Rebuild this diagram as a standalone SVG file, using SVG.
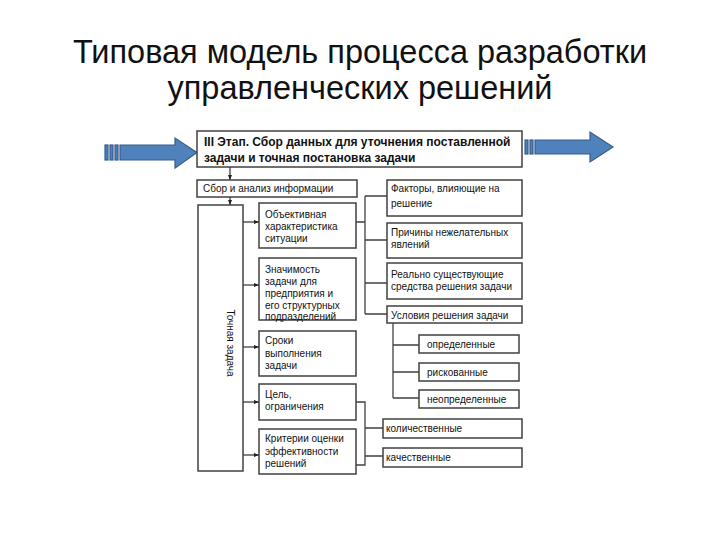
<svg xmlns="http://www.w3.org/2000/svg" width="720" height="540" viewBox="0 0 720 540">
<defs>
<style>
.t{font-family:"Liberation Sans",Arial,sans-serif;fill:#111}
.ttl{font-size:32.5px;text-anchor:middle}
.s{font-size:10px}
.b{font-size:12px;font-weight:bold}
.box{fill:#fff;stroke:#404040;stroke-width:1.5}
.ln{fill:none;stroke:#404040;stroke-width:1.3}
.arr{fill:#4F81BD;stroke:#385D8A;stroke-width:1.2}
</style>
<marker id="ah" viewBox="0 0 10 10" refX="10" refY="5" markerWidth="5" markerHeight="5" orient="auto" markerUnits="userSpaceOnUse">
<path d="M0,1 L10,5 L0,9 z" fill="#222"/>
</marker>
</defs>
<rect width="720" height="540" fill="#fff"/>
<g id="title">
<text class="t ttl" x="360" y="63">Типовая модель процесса разработки</text>
<text class="t ttl" x="360" y="99">управленческих решений</text>
</g>
<g id="arrow-left">
<rect class="arr" x="105" y="145" width="3" height="15"/>
<rect class="arr" x="110" y="145" width="3" height="15"/>
<rect class="arr" x="115" y="145" width="3" height="15"/>
<path class="arr" d="M120,145 L175,145 L175,138 L197,152.5 L175,168 L175,160 L120,160 Z"/>
</g>
<g id="arrow-right">
<rect class="arr" x="525" y="140" width="3" height="14"/>
<rect class="arr" x="530" y="140" width="3" height="14"/>
<path class="arr" d="M535,140 L590,140 L590,132 L613,147 L590,162 L590,154 L535,154 Z"/>
</g>
<g id="stage">
<rect class="box" x="197" y="131" width="325" height="36"/>
<text class="t b" x="204" y="146">III Этап. Сбор данных для уточнения поставленной</text>
<text class="t b" x="204" y="162">задачи и точная постановка задачи</text>
</g>
<g id="sbor">
<rect class="box" x="197" y="180" width="160" height="17"/>
<text class="t s" x="203" y="192">Сбор и анализ информации</text>
</g>
<g id="tochnaya">
<rect class="box" x="198" y="205" width="45" height="266"/>
<text class="t s" transform="translate(227,343) rotate(90)" text-anchor="middle">Точная задача</text>
</g>
<g id="obj">
<rect class="box" x="259" y="203" width="97" height="45"/>
<text class="t s" x="265" y="218">Объективная</text>
<text class="t s" x="265" y="230">характеристика</text>
<text class="t s" x="265" y="242">ситуации</text>
</g>
<g id="znach">
<rect class="box" x="259" y="258" width="97" height="62"/>
<text class="t s" x="265" y="273">Значимость</text>
<text class="t s" x="265" y="285">задачи для</text>
<text class="t s" x="265" y="297">предприятия и</text>
<text class="t s" x="265" y="308.5">его структурных</text>
<text class="t s" x="265" y="320">подразделений</text>
</g>
<g id="sroki">
<rect class="box" x="259" y="331" width="97" height="45"/>
<text class="t s" x="265" y="344">Сроки</text>
<text class="t s" x="265" y="357">выполнения</text>
<text class="t s" x="265" y="369">задачи</text>
</g>
<g id="cel">
<rect class="box" x="259" y="384" width="97" height="36"/>
<text class="t s" x="265" y="398">Цель,</text>
<text class="t s" x="265" y="410">ограничения</text>
</g>
<g id="krit">
<rect class="box" x="259" y="429" width="97" height="45"/>
<text class="t s" x="265" y="442">Критерии оценки</text>
<text class="t s" x="265" y="455">эффективности</text>
<text class="t s" x="265" y="467">решений</text>
</g>
<g id="faktory">
<rect class="box" x="387" y="180" width="135" height="36"/>
<text class="t s" x="391" y="192">Факторы, влияющие на</text>
<text class="t s" x="391" y="207">решение</text>
</g>
<g id="prichiny">
<rect class="box" x="387" y="223" width="135" height="35"/>
<text class="t s" x="391" y="236">Причины нежелательных</text>
<text class="t s" x="391" y="248">явлений</text>
</g>
<g id="sredstva">
<rect class="box" x="387" y="263" width="135" height="36"/>
<text class="t s" x="391" y="278">Реально существующие</text>
<text class="t s" x="391" y="290">средства решения задачи</text>
</g>
<g id="usloviya">
<rect class="box" x="387" y="306" width="135" height="17"/>
<text class="t s" x="391" y="319">Условия решения задачи</text>
</g>
<g id="opr">
<rect class="box" x="419" y="335" width="100" height="18"/>
<text class="t s" x="427" y="348">определенные</text>
</g>
<g id="risk">
<rect class="box" x="419" y="363" width="100" height="18"/>
<text class="t s" x="427" y="376">рискованные</text>
</g>
<g id="neopr">
<rect class="box" x="419" y="390" width="100" height="18"/>
<text class="t s" x="427" y="403">неопределенные</text>
</g>
<g id="kolich">
<rect class="box" x="383" y="419" width="139" height="19"/>
<text class="t s" x="386" y="432">количественные</text>
</g>
<g id="kachest">
<rect class="box" x="383" y="448" width="139" height="19"/>
<text class="t s" x="386" y="461">качественные</text>
</g>
<g id="connectors">
<line class="ln" x1="230" y1="167" x2="230" y2="180" marker-end="url(#ah)"/>
<line class="ln" x1="230" y1="197" x2="230" y2="205" marker-end="url(#ah)"/>
<line class="ln" x1="243" y1="222" x2="259" y2="222" marker-end="url(#ah)"/>
<line class="ln" x1="243" y1="285" x2="259" y2="285" marker-end="url(#ah)"/>
<line class="ln" x1="243" y1="347" x2="259" y2="347" marker-end="url(#ah)"/>
<line class="ln" x1="243" y1="402" x2="259" y2="402" marker-end="url(#ah)"/>
<line class="ln" x1="243" y1="455" x2="259" y2="455" marker-end="url(#ah)"/>
<path class="ln" d="M356,222 H365 M365,196 V314 M365,196 H387 M365,240 H387 M365,283 H387 M365,314 H387"/>
<path class="ln" d="M393,323 V398 M393,345 H419 M393,372 H419 M393,398 H419"/>
<path class="ln" d="M356,402 H365 V465 H356 M365,428 H383 M365,456 H383"/>
</g>
</svg>
